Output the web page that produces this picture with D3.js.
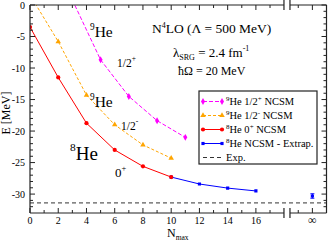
<!DOCTYPE html>
<html>
<head>
<meta charset="utf-8">
<script src="https://cdn.jsdelivr.net/npm/d3@7"></script>
<style>
  body { margin: 0; background: #fff; }
  svg { display: block; font-family: "Liberation Serif", "DejaVu Serif", serif; }
</style>
</head>
<body>
<div id="viz"></div>
<script>
// data
const nmaxPlus = [3, 5, 7, 9, 11];
const ePlus = [0.8, -8.7, -14.5, -18.35, -21.0];
const nmaxMinus = [0, 2, 4, 6, 8, 10];
const eMinus = [1.6, -5.8, -14.3, -19.0, -22.2, -24.3];
const nmax8 = [0, 2, 4, 6, 8, 10];
const e8 = [-3.5, -11.5, -18.75, -23.0, -25.6, -27.3];
const nmaxExtrap = [10, 12, 14, 16];
const eExtrap = [-27.3, -28.4, -29.05, -29.5];
const nmaxInf = 20, eInf = -30.3, eInfErr = 0.35;
const eExp = -31.4;
const xTicks = [0, 2, 4, 6, 8, 10, 12, 14, 16];
const yTicks = [-30, -25, -20, -15, -10, -5, 0];
const legendLabels = [
  ['9', 'He 1/2', '+', ' NCSM'],
  ['9', 'He 1/2', '-', ' NCSM'],
  ['8', 'He 0', '+', ' NCSM'],
  ['8', 'He NCSM - Extrap.', '', ''],
  ['', 'Exp.', '', '']
];

const W = 328, H = 241;
const L = 30, R = 326.5, T = 5, B = 213;
const x = d3.scaleLinear().domain([0, 21]).range([L, R]);
const y = d3.scaleLinear().domain([-33, 0]).range([B, T]);

const svg = d3.select('#viz').append('svg').attr('width', W).attr('height', H);
svg.append('defs').append('clipPath').attr('id', 'clip')
  .append('rect').attr('x', L).attr('y', T).attr('width', R - L).attr('height', B - T);

const plot = svg.append('g').attr('clip-path', 'url(#clip)');
const zip = (a, b) => a.map((v, i) => [v, b[i]]);
const line = d3.line().x(d => x(d[0])).y(d => y(d[1]));

// exp line
plot.append('line').attr('x1', L).attr('x2', R).attr('y1', y(eExp)).attr('y2', y(eExp))
  .attr('stroke', '#333').attr('stroke-width', 1).attr('stroke-dasharray', '4,3');

const series = [
  { pts: zip(nmaxPlus, ePlus), color: '#ff00ff', dash: '4,2', sym: d3.symbolDiamond, size: 14 },
  { pts: zip(nmaxMinus, eMinus), color: '#ffa500', dash: '3,2', sym: d3.symbolTriangle, size: 13 },
  { pts: zip(nmaxExtrap, eExtrap), color: '#0000ff', dash: null, sym: d3.symbolSquare, size: 10 },
  { pts: zip(nmax8, e8), color: '#ff0000', dash: null, sym: d3.symbolCircle, size: 14 }
];
series.forEach(s => {
  plot.append('path').attr('d', line(s.pts)).attr('fill', 'none')
    .attr('stroke', s.color).attr('stroke-width', 1).attr('stroke-dasharray', s.dash);
  plot.selectAll(null).data(s.pts).enter().append('path')
    .attr('d', d3.symbol().type(s.sym).size(s.size))
    .attr('transform', d => `translate(${x(d[0])},${y(d[1])})`)
    .attr('fill', s.color);
});

// extrapolated point with error bar
const gi = plot.append('g').attr('stroke', '#0000ff').attr('stroke-width', 1);
gi.append('line').attr('x1', x(nmaxInf)).attr('x2', x(nmaxInf))
  .attr('y1', y(eInf - eInfErr)).attr('y2', y(eInf + eInfErr));
[eInf - eInfErr, eInf + eInfErr].forEach(v => gi.append('line')
  .attr('x1', x(nmaxInf) - 2).attr('x2', x(nmaxInf) + 2).attr('y1', y(v)).attr('y2', y(v)));
plot.append('path').attr('d', d3.symbol().type(d3.symbolSquare).size(10))
  .attr('transform', `translate(${x(nmaxInf)},${y(eInf)})`).attr('fill', '#0000ff');

// frame with axis break
const ax = svg.append('g').attr('stroke', '#222').attr('stroke-width', 1.2).attr('fill', 'none');
const xb = x(18.2), gap = 3;
ax.append('line').attr('x1', L).attr('x2', L).attr('y1', T).attr('y2', B);
ax.append('line').attr('x1', R).attr('x2', R).attr('y1', T).attr('y2', B);
[T, B].forEach(yy => {
  ax.append('line').attr('x1', L).attr('x2', xb - gap).attr('y1', yy).attr('y2', yy);
  ax.append('line').attr('x1', xb + gap).attr('x2', R).attr('y1', yy).attr('y2', yy);
  [xb - gap, xb + gap].forEach(xx => ax.append('line')
    .attr('x1', xx).attr('x2', xx).attr('y1', yy - 5).attr('y2', yy + 5));
});

// ticks, pointing inward
const tk = svg.append('g').attr('stroke', '#222').attr('stroke-width', 1);
d3.range(0, 18).concat([19, 20]).forEach(v => {
  const len = (v % 2 === 0) ? 5 : 3;
  tk.append('line').attr('x1', x(v)).attr('x2', x(v)).attr('y1', B).attr('y2', B - len);
  tk.append('line').attr('x1', x(v)).attr('x2', x(v)).attr('y1', T).attr('y2', T + len);
});
d3.range(-32, 1).forEach(v => {
  const len = (v % 5 === 0) ? 5 : 3;
  tk.append('line').attr('x1', L).attr('x2', L + len).attr('y1', y(v)).attr('y2', y(v));
  tk.append('line').attr('x1', R).attr('x2', R - len).attr('y1', y(v)).attr('y2', y(v));
});

// tick labels
svg.append('g').selectAll('text').data(xTicks).enter().append('text')
  .attr('x', d => x(d)).attr('y', 224).attr('text-anchor', 'middle')
  .attr('font-size', 10).text(d => d);
svg.append('text').attr('x', x(nmaxInf)).attr('y', 224).attr('text-anchor', 'middle')
  .attr('font-size', 12).text('∞');
svg.append('g').selectAll('text').data(yTicks).enter().append('text')
  .attr('x', 25).attr('y', d => y(d) + 3.5).attr('text-anchor', 'end')
  .attr('font-size', 10).text(d => d);

// axis titles
const xl = svg.append('text').attr('x', 167).attr('y', 237).attr('font-size', 12);
xl.append('tspan').text('N');
xl.append('tspan').attr('font-size', 7.5).attr('dy', 3).text('max');
svg.append('text').attr('transform', 'translate(10,113) rotate(-90)')
  .attr('text-anchor', 'middle').attr('font-size', 12).text('E [MeV]');

// state labels
function iso(xp, yp, mass, sym, big) {
  const t = svg.append('text').attr('x', xp).attr('y', yp).attr('font-size', big);
  t.append('tspan').attr('font-size', big * 0.6).attr('dy', -big * 0.45).text(mass);
  t.append('tspan').attr('dy', big * 0.45).text(sym);
}
iso(90, 37, '9', 'He', 15.5);
iso(90, 107, '9', 'He', 15.5);
iso(70, 160, '8', 'He', 19);
function spin(xp, yp, base, sup, fs) {
  const t = svg.append('text').attr('x', xp).attr('y', yp).attr('font-size', fs);
  t.append('tspan').text(base);
  t.append('tspan').attr('font-size', fs * 0.65).attr('dy', -fs * 0.5).text(sup);
}
spin(117, 67, '1/2', '+', 11.5);
spin(121, 130, '1/2', '-', 11.5);
spin(115, 177, '0', '+', 13);

// title block
const t1 = svg.append('text').attr('x', 152).attr('y', 33).attr('font-size', 13.5);
t1.append('tspan').text('N');
t1.append('tspan').attr('font-size', 8).attr('dy', -5).text('4');
t1.append('tspan').attr('dy', 5).text('LO (Λ = 500 MeV)');
const t2 = svg.append('text').attr('x', 173).attr('y', 57).attr('font-size', 13);
t2.append('tspan').text('λ');
t2.append('tspan').attr('font-size', 8).attr('dy', 3).text('SRG');
t2.append('tspan').attr('dy', -3).text(' = 2.4 fm');
t2.append('tspan').attr('font-size', 8).attr('dy', -6).text('-1');
svg.append('text').attr('x', 178).attr('y', 75).attr('font-size', 12).text('ħΩ = 20 MeV');

// legend
const lg = svg.append('g');
lg.append('rect').attr('x', 199).attr('y', 91).attr('width', 118).attr('height', 73)
  .attr('fill', '#fff').attr('stroke', '#222').attr('stroke-width', 1.2);
const legStyles = [series[0], series[1], series[3], series[2], { color: '#333', dash: '4,3', sym: null }];
legStyles.forEach((s, i) => {
  const ly = 101.5 + i * 14;
  lg.append('line').attr('x1', 203).attr('x2', 222).attr('y1', ly).attr('y2', ly)
    .attr('stroke', s.color).attr('stroke-width', 1).attr('stroke-dasharray', s.dash);
  if (s.sym) [203, 222].forEach(xx => lg.append('path')
    .attr('d', d3.symbol().type(s.sym).size(s.size))
    .attr('transform', `translate(${xx},${ly})`).attr('fill', s.color));
  const lab = legendLabels[i];
  const t = lg.append('text').attr('x', 226).attr('y', ly + 3.5).attr('font-size', 10.5);
  if (lab[0]) t.append('tspan').attr('font-size', 7).attr('dy', -4).text(lab[0]);
  t.append('tspan').attr('dy', lab[0] ? 4 : 0).text(lab[1]);
  if (lab[2]) t.append('tspan').attr('font-size', 7).attr('dy', -4).text(lab[2]);
  if (lab[3]) t.append('tspan').attr('dy', 4).text(lab[3]);
});
</script>
</body>
</html>
